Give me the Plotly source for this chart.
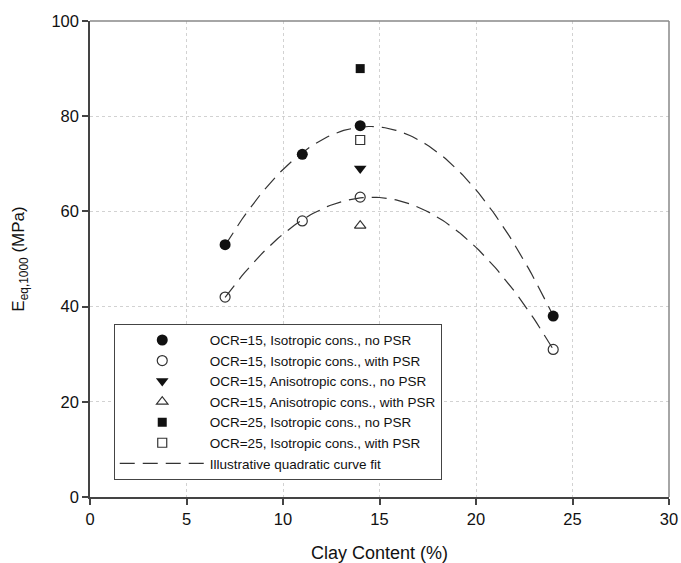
import numpy as np
import plotly.graph_objects as go

# Equivalent modulus E_eq,1000 (MPa) against clay content (%)
clay_iso = [7, 11, 14, 24]
e_ocr15_iso_no_psr = [53, 72, 78, 38]
e_ocr15_iso_psr = [42, 58, 63, 31]

clay_single = [14]
e_ocr15_aniso_no_psr = [69]
e_ocr15_aniso_psr = [57]
e_ocr25_iso_no_psr = [90]
e_ocr25_iso_psr = [75]

x_ticks = [0, 5, 10, 15, 20, 25, 30]
y_ticks = [0, 20, 40, 60, 80, 100]

FONT = "Liberation Sans, Arial, sans-serif"
INK = "#111111"
CURVE = "#333333"

fig = go.Figure()

# Illustrative quadratic fits through the isotropic OCR=15 series
x_fit = np.linspace(min(clay_iso), max(clay_iso), 120)
for i, series in enumerate([e_ocr15_iso_no_psr, e_ocr15_iso_psr]):
    coeffs = np.polyfit(clay_iso, series, 2)
    fig.add_trace(go.Scatter(
        x=x_fit, y=np.polyval(coeffs, x_fit), mode="lines",
        line=dict(color=CURVE, width=1.2, dash="15px,8px"),
        name="Illustrative quadratic curve fit",
        showlegend=(i == 0), legendrank=7, hoverinfo="skip",
    ))

def add_points(x, y, name, symbol, rank, size=10):
    filled = not symbol.endswith("-open")
    fig.add_trace(go.Scatter(
        x=x, y=y, mode="markers", name=name, legendrank=rank,
        marker=dict(symbol=symbol, size=size,
                    color=INK if filled else "#333333",
                    line=dict(color=INK if filled else "#333333", width=0 if filled else 1.2)),
    ))

add_points(clay_iso, e_ocr15_iso_no_psr, "OCR=15, Isotropic cons., no PSR", "circle", 1, 11)
add_points(clay_iso, e_ocr15_iso_psr, "OCR=15, Isotropic cons., with PSR", "circle-open", 2, 10)
add_points(clay_single, e_ocr15_aniso_no_psr, "OCR=15, Anisotropic cons., no PSR", "triangle-down", 3, 11)
add_points(clay_single, e_ocr15_aniso_psr, "OCR=15, Anisotropic cons., with PSR", "triangle-up-open", 4, 10)
add_points(clay_single, e_ocr25_iso_no_psr, "OCR=25, Isotropic cons., no PSR", "square", 5, 9)
add_points(clay_single, e_ocr25_iso_psr, "OCR=25, Isotropic cons., with PSR", "square-open", 6, 9)

axis_common = dict(
    showline=True, linecolor="#444444", linewidth=1.5,
    ticks="outside", ticklen=6, tickwidth=1.5, tickcolor="#444444",
    showgrid=True, gridcolor="#d2d2d2", griddash="dot", gridwidth=1,
    zeroline=False, automargin=False,
    tickfont=dict(family=FONT, size=16.5, color=INK),
)

fig.update_xaxes(
    range=[0, 30], tickvals=x_ticks, **axis_common,
    title=dict(text="Clay Content (%)", font=dict(family=FONT, size=18, color=INK), standoff=20),
)
fig.update_yaxes(
    range=[0, 100], tickvals=y_ticks, **axis_common,
    title=dict(text="E<sub>eq,1000</sub> (MPa)", font=dict(family=FONT, size=17, color=INK), standoff=22),
)

# Lighter frame on the top and right edges
fig.add_shape(type="line", xref="x domain", yref="y domain", x0=0, x1=1, y0=1, y1=1,
              line=dict(color="#888888", width=1.5))
fig.add_shape(type="line", xref="x domain", yref="y domain", x0=1, x1=1, y0=0, y1=1,
              line=dict(color="#888888", width=1.5))

fig.update_layout(
    width=681, height=563,
    margin=dict(l=90, r=12, t=21, b=66),
    paper_bgcolor="white", plot_bgcolor="white",
    font=dict(family=FONT, color=INK),
    legend=dict(
        x=0.041, y=0.364, xanchor="left", yanchor="top",
        bgcolor="white", bordercolor="#444444", borderwidth=1,
        font=dict(family=FONT, size=13.5, color=INK),
        itemwidth=85, tracegroupgap=0,
    ),
    showlegend=True,
)

fig.write_html("out.html")
